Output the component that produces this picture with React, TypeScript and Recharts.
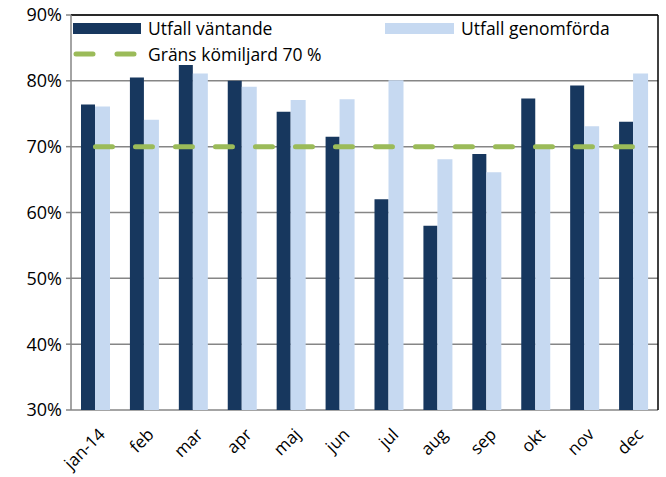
import React from 'react';
import { ComposedChart, Bar, Line, XAxis, YAxis, CartesianGrid, Legend, ReferenceLine } from 'recharts';

const months = ['jan-14', 'feb', 'mar', 'apr', 'maj', 'jun', 'jul', 'aug', 'sep', 'okt', 'nov', 'dec'];
const waiting = [76.4, 80.5, 82.4, 80.0, 75.3, 71.5, 62.0, 58.0, 68.9, 77.3, 79.3, 73.8];
const done = [76.1, 74.1, 81.1, 79.1, 77.1, 77.2, 80.1, 68.1, 66.1, 70.0, 73.1, 81.1];
const limit = [70, 70, 70, 70, 70, 70, 70, 70, 70, 70, 70, 70];
const yTicks = [30, 40, 50, 60, 70, 80, 90];
const boundaryTicks = [0, 1, 2, 3, 4, 5, 6, 7, 8, 9, 10, 11, 12];

const DARK = '#17375E';
const LIGHT = '#C6D9F1';
const GREEN = '#9BBB59';
const GRID = '#868686';
const FONT = '"Open Sans", sans-serif';

const data = months.map((m, i) => ({ name: m, waiting: waiting[i], done: done[i], limit: limit[i] }));

const MonthTick = (props: any) => {
  const { x, y, payload } = props;
  return (
    <g transform={`translate(${x + 6},${y + 13}) rotate(-45)`}>
      <text x={0} y={0} textAnchor="end" dominantBaseline="central" fontSize={17} fill="#000" fontFamily={FONT}>
        {payload.value}
      </text>
    </g>
  );
};

const LegendBox = () => (
  <div style={{ position: 'relative', width: 591, height: 0, fontFamily: FONT, fontSize: 17.5, color: '#000', lineHeight: '22px' }}>
    <div style={{ position: 'absolute', left: 2, top: 0, display: 'flex', alignItems: 'center' }}>
      <div style={{ width: 68, height: 11, background: DARK, marginRight: 7 }} />
      <span>Utfall väntande</span>
    </div>
    <div style={{ position: 'absolute', left: 314, top: 0, display: 'flex', alignItems: 'center' }}>
      <div style={{ width: 69, height: 11, background: LIGHT, marginRight: 7 }} />
      <span>Utfall genomförda</span>
    </div>
    <div style={{ position: 'absolute', left: 2, top: 26, display: 'flex', alignItems: 'center' }}>
      <svg width={68} height={10} style={{ marginRight: 7 }}>
        <line x1={3} y1={5} x2={65} y2={5} stroke={GREEN} strokeWidth={5} strokeLinecap="round" strokeDasharray="17 24" />
      </svg>
      <span>Gräns kömiljard 70 %</span>
    </div>
  </div>
);

export default function App() {
  return (
    <div style={{ position: 'absolute', left: 0, top: 0, width: 666, height: 477, background: '#fff' }}>
      <ComposedChart
        width={666}
        height={477}
        data={data}
        margin={{ top: 15, right: 4, bottom: 0, left: 0 }}
        barGap={0}
      >
        <CartesianGrid vertical={false} stroke={GRID} strokeWidth={1.5} />
        <XAxis
          xAxisId="b"
          type="number"
          domain={[0, 12]}
          ticks={boundaryTicks}
          tickFormatter={() => ''}
          height={0}
          axisLine={{ stroke: GRID, strokeWidth: 1.5 }}
          tickLine={{ stroke: GRID, strokeWidth: 1.5 }}
          tickSize={5}
          allowDataOverflow
        />
        <XAxis
          dataKey="name"
          height={67}
          axisLine={false}
          tickLine={false}
          interval={0}
          tick={<MonthTick />}
        />
        <YAxis
          domain={[30, 90]}
          ticks={yTicks}
          width={71}
          tickFormatter={(v: number) => `${v}%`}
          axisLine={{ stroke: GRID, strokeWidth: 1.5 }}
          tickLine={{ stroke: GRID, strokeWidth: 1.5 }}
          tickSize={5}
          tickMargin={4}
          tick={{ fontSize: 18, fill: '#000', fontFamily: FONT }}
        />
        <YAxis
          yAxisId="r"
          orientation="right"
          domain={[30, 90]}
          width={4}
          tick={false}
          tickLine={false}
          axisLine={{ stroke: '#000', strokeWidth: 1.5 }}
        />
        <ReferenceLine y={90} stroke="#000" strokeWidth={1.5} />
        <Legend
          verticalAlign="top"
          align="left"
          content={<LegendBox />}
          wrapperStyle={{ position: 'absolute', top: 17, left: 71, width: 591, height: 0, overflow: 'visible' }}
        />
        <Bar dataKey="waiting" name="Utfall väntande" fill={DARK} barSize={14} isAnimationActive={false} />
        <Bar dataKey="done" name="Utfall genomförda" fill={LIGHT} barSize={15} isAnimationActive={false} />
        <Line
          dataKey="limit"
          name="Gräns kömiljard 70 %"
          stroke={GREEN}
          strokeWidth={5}
          strokeLinecap="round"
          strokeDasharray="17 23"
          dot={false}
          activeDot={false}
          isAnimationActive={false}
        />
      </ComposedChart>
    </div>
  );
}
